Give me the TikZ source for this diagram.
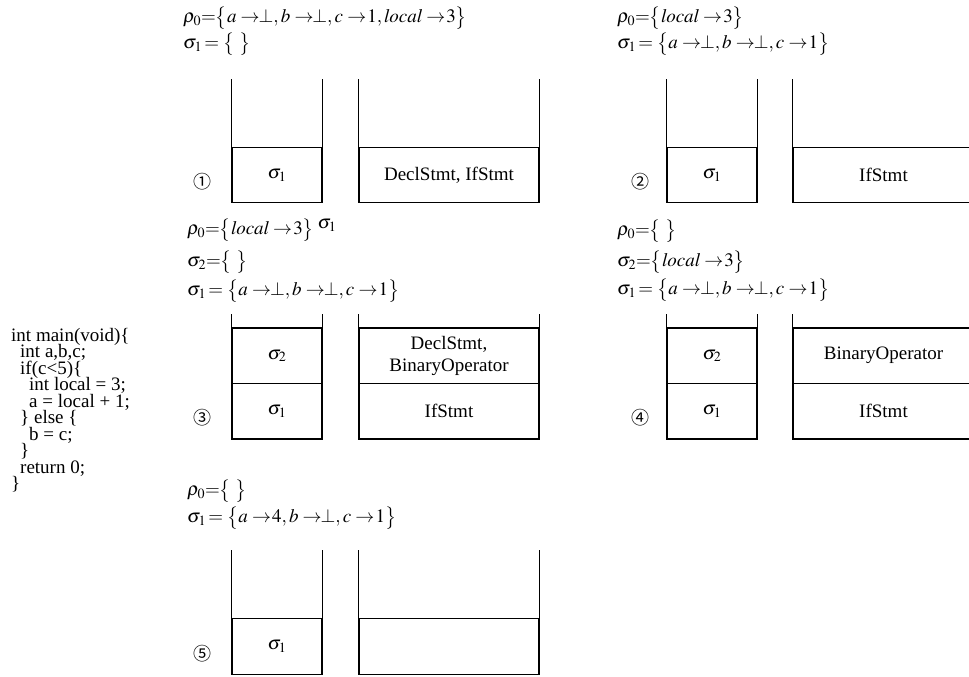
\documentclass[tikz,border=0pt]{standalone}
\usepackage{mathptmx}
\usepackage{fontspec}
\setmainfont{Liberation Serif}
\newfontfamily\circfont{Noto Sans CJK SC}
\newcommand{\tobot}{\to\mkern-5mu\bot}
\newcommand{\tto}{\to\mkern-3mu}
\newcommand{\lbr}{\bigl\lbrace}
\newcommand{\rbr}{\bigr\rbrace}
\begin{document}
\begin{tikzpicture}[x=1pt,y=-1pt,
  every node/.style={inner sep=0pt, font=\fontsize{19}{22}\selectfont},
  cellbox/.style={draw, line width=1.1pt, minimum height=55.5pt, align=center},
  lcell/.style={cellbox, minimum width=90pt},
  rcell/.style={cellbox, minimum width=180pt},
  rcellwide/.style={cellbox, minimum width=181pt},
  wall/.style={line width=1.1pt},
  formula/.style={anchor=west},
  circ/.style={font=\fontsize{18}{20}\circfont},
  codeline/.style={anchor=base west}
]
\useasboundingbox (0,0) rectangle (969,677);

% ---------- code ----------
\node[codeline] (c1) at (11,341) {int main(void)\{};
\node[codeline] (c2) at (20,357.5) {int a,b,c;};
\node[codeline] (c3) at (20,374) {if(c<5)\{};
\node[codeline] (c4) at (29,390.5) {int local = 3;};
\node[codeline] (c5) at (29,407) {a = local + 1;};
\node[codeline] (c6) at (20,423.5) {\} else \{};
\node[codeline] (c7) at (29,440) {b = c;};
\node[codeline] (c8) at (20,456.5) {\}};
\node[codeline] (c9) at (20,473) {return 0;};
\node[codeline] (c10) at (11,489.5) {\}};

% ---------- panel 1 ----------
\node[formula] (f1a) at (183,18) {$\rho_0{=}\lbr a\tobot,b\tobot,c\tto1,\mathit{local}\tto3\rbr$};
\node[formula] (f1b) at (183,44) {$\sigma_1\mkern-2mu=\lbr\ \rbr$};
\node[lcell] (p1l) at (277,175) {$\sigma_1$};
\node[rcell] (p1r) at (449,175) {DeclStmt, IfStmt};
\draw[wall] (p1l.north west) -- ++(0,-68);
\draw[wall] (p1l.north east) -- ++(0,-68);
\draw[wall] (p1r.north west) -- ++(0,-68);
\draw[wall] (p1r.north east) -- ++(0,-68);
\node[circ] (n1) at (202,182) {①};

% ---------- panel 2 ----------
\node[formula] (f2a) at (617,18) {$\rho_0{=}\lbr\mathit{local}\tto3\rbr$};
\node[formula] (f2b) at (617,44) {$\sigma_1\mkern-2mu=\lbr a\tobot,b\tobot,c\tto1\rbr$};
\node[lcell] (p2l) at (712,175) {$\sigma_1$};
\node[rcellwide] (p2r) at (883.5,175) {IfStmt};
\draw[wall] (p2l.north west) -- ++(0,-68);
\draw[wall] (p2l.north east) -- ++(0,-68);
\draw[wall] (p2r.north west) -- ++(0,-68);
\node[circ] (n2) at (640,182) {②};

% ---------- panel 3 ----------
\node[formula] (f3a) at (187,230) {$\rho_0{=}\lbr\mathit{local}\tto3\rbr$};
\node (f3s) at (327,225) {$\sigma_1$};
\node[formula] (f3b) at (187,262) {$\sigma_2{=}\lbr\ \rbr$};
\node[formula] (f3c) at (187,291) {$\sigma_1\mkern-2mu=\lbr a\tobot,b\tobot,c\tto1\rbr$};
\node[lcell] (p3l2) at (277,355.75) {$\sigma_2$};
\node[lcell] (p3l1) at (277,411.25) {$\sigma_1$};
\node[rcell] (p3r2) at (449,355.75) {DeclStmt,\\BinaryOperator};
\node[rcell] (p3r1) at (449,411.25) {IfStmt};
\draw[wall] (p3l2.north west) -- ++(0,-13);
\draw[wall] (p3l2.north east) -- ++(0,-13);
\draw[wall] (p3r2.north west) -- ++(0,-13);
\draw[wall] (p3r2.north east) -- ++(0,-13);
\node[circ] (n3) at (202,418) {③};

% ---------- panel 4 ----------
\node[formula] (f4a) at (617,231) {$\rho_0{=}\lbr\ \rbr$};
\node[formula] (f4b) at (617,262) {$\sigma_2{=}\lbr\mathit{local}\tto3\rbr$};
\node[formula] (f4c) at (617,290) {$\sigma_1\mkern-2mu=\lbr a\tobot,b\tobot,c\tto1\rbr$};
\node[lcell] (p4l2) at (712,355.75) {$\sigma_2$};
\node[lcell] (p4l1) at (712,411.25) {$\sigma_1$};
\node[rcellwide] (p4r2) at (883.5,355.75) {BinaryOperator};
\node[rcellwide] (p4r1) at (883.5,411.25) {IfStmt};
\draw[wall] (p4l2.north west) -- ++(0,-13);
\draw[wall] (p4l2.north east) -- ++(0,-13);
\draw[wall] (p4r2.north west) -- ++(0,-13);
\node[circ] (n4) at (640,418) {④};

% ---------- panel 5 ----------
\node[formula] (f5a) at (187,491) {$\rho_0{=}\lbr\ \rbr$};
\node[formula] (f5b) at (187,518) {$\sigma_1\mkern-2mu=\lbr a\tto4,b\tobot,c\tto1\rbr$};
\node[lcell] (p5l) at (277,646.5) {$\sigma_1$};
\node[rcell] (p5r) at (449,646.5) {};
\draw[wall] (p5l.north west) -- ++(0,-68);
\draw[wall] (p5l.north east) -- ++(0,-68);
\draw[wall] (p5r.north west) -- ++(0,-68);
\draw[wall] (p5r.north east) -- ++(0,-68);
\node[circ] (n5) at (202,654) {⑤};
\end{tikzpicture}
\end{document}
